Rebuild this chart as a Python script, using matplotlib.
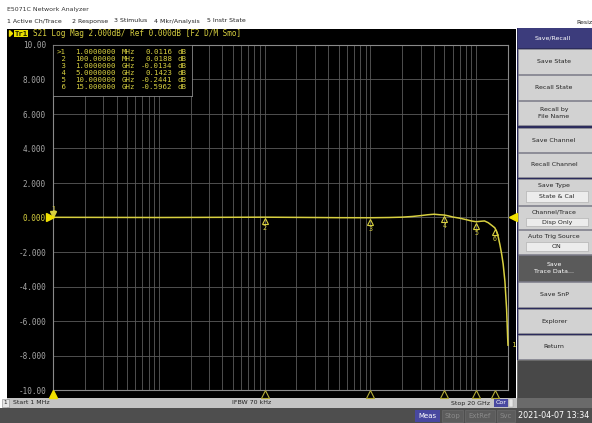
import numpy as np
import matplotlib
matplotlib.use("Agg")
import matplotlib.pyplot as plt
from matplotlib.patches import Rectangle
from matplotlib.ticker import LogLocator, NullFormatter, NullLocator
from matplotlib import transforms

# S21 trace (frequency in GHz, magnitude in dB)
freq_ghz = [0.001, 0.01, 0.1, 0.3, 0.5, 1.0, 1.5, 2.0, 2.5, 3.0, 3.5, 4.0, 4.5,
            5.0, 5.5, 6.0, 7.0, 8.0, 9.0, 10.0, 11.0, 12.0, 13.0, 14.0, 15.0,
            15.6, 16.2, 16.8, 17.4, 18.0, 18.7, 19.4, 19.86, 20.0]
s21_db = [0.0116, 0.0, 0.0188, 0.0, -0.01, -0.0134, 0.0, 0.02, 0.06, 0.11, 0.16,
          0.19, 0.16, 0.1423, 0.09, 0.03, -0.04, -0.12, -0.2, -0.2441, -0.22,
          -0.2, -0.3, -0.45, -0.5962, -0.8, -1.15, -1.6, -2.1, -2.7, -3.7,
          -5.3, -7.0, -7.4]

# marker table
mkr_ids = ["1", "2", "3", "4", "5", "6"]
mkr_freq_ghz = [0.001, 0.1, 1.0, 5.0, 10.0, 15.0]
mkr_freq_txt = ["1.0000000", "100.00000", "1.0000000", "5.0000000", "10.000000", "15.000000"]
mkr_unit = ["MHz", "MHz", "GHz", "GHz", "GHz", "GHz"]
mkr_db = [0.0116, 0.0188, -0.0134, 0.1423, -0.2441, -0.5962]

y_ticks = [10, 8, 6, 4, 2, 0, -2, -4, -6, -8, -10]
y_tick_labels = ["10.00", "8.000", "6.000", "4.000", "2.000", "0.000",
                 "-2.000", "-4.000", "-6.000", "-8.000", "-10.00"]

menu_items = ["1 Active Ch/Trace", "2 Response", "3 Stimulus", "4 Mkr/Analysis", "5 Instr State"]
menu_x = [7, 72, 114, 154, 207]

# softkeys: (top, bottom, label, sub-box text, style)
softkeys = [
    (28, 48, "Save/Recall", None, "title"),
    (49, 74, "Save State", None, "key"),
    (75, 100, "Recall State", None, "key"),
    (101, 125, "Recall by\nFile Name", None, "key"),
    (128, 152, "Save Channel", None, "key"),
    (153, 177, "Recall Channel", None, "key"),
    (179, 205, "Save Type", "State & Cal", "key"),
    (206, 229, "Channel/Trace", "Disp Only", "key"),
    (230, 254, "Auto Trig Source", "ON", "key"),
    (255, 281, "Save\nTrace Data...", None, "dark"),
    (282, 307, "Save SnP", None, "key"),
    (309, 333, "Explorer", None, "key"),
    (335, 359, "Return", None, "key"),
]

W, H = 592, 423
YEL = "#d8d040"
OLIVE = "#b4ac38"
GRID = "#5c5c5c"
MONO = "DejaVu Sans Mono"
UI = "DejaVu Sans"

fig = plt.figure(figsize=(W / 100, H / 100), dpi=100)
fig.patch.set_facecolor("white")

# window chrome drawn in pixel coordinates
bg = fig.add_axes([0, 0, 1, 1])
bg.set_xlim(0, W)
bg.set_ylim(H, 0)
bg.axis("off")


def box(x0, y0, x1, y1, fc, ec="none", lw=0.6, z=1):
    bg.add_patch(Rectangle((x0, y0), x1 - x0, y1 - y0, facecolor=fc,
                           edgecolor=ec, linewidth=lw, zorder=z))


bg.text(7, 9, "E5071C Network Analyzer", fontsize=4.5, family=UI, color="#333333", va="center")
for label, x in zip(menu_items, menu_x):
    bg.text(x, 21, label, fontsize=4.5, family=UI, color="#222222", va="center")
bg.text(576, 22, "Resiz", fontsize=4.5, family=UI, color="#222222", va="center")

# display area
box(7, 29, 516, 398, "black")
bg.fill([9.5, 9.5, 12.5], [30.5, 36.5, 33.5], color="#f0e000", zorder=3)
box(14, 30, 28, 37, "#e8e000", z=3)
bg.text(21, 33.6, "Tr1", fontsize=5.2, family=MONO, color="#202000", ha="center", va="center",
        fontweight="bold", zorder=4)
bg.text(33, 33.6, "S21 Log Mag 2.000dB/ Ref 0.000dB [F2 D/M Smo]", fontsize=5.5,
        family=MONO, color=YEL, va="center", zorder=4)

# status bar and bottom bar
box(7, 398, 517, 408, "#c4c4c4")
box(2, 399, 9, 407, "#e6e6e6", ec="#888888", lw=0.4)
bg.text(5.5, 403, "1", fontsize=4.2, family=UI, color="#222222", ha="center", va="center")
bg.text(13, 403, "Start 1 MHz", fontsize=4.5, family=UI, color="#222222", va="center")
bg.text(232, 403, "IFBW 70 kHz", fontsize=4.5, family=UI, color="#222222", va="center")
bg.text(451, 403, "Stop 20 GHz", fontsize=4.5, family=UI, color="#222222", va="center")
box(494, 399, 508, 407, "#4848a0")
bg.text(501, 403, "Cor", fontsize=4.5, family=UI, color="white", ha="center", va="center")
box(509, 399, 513, 407, "#e6e6e6", ec="#999999", lw=0.3)
box(0, 408, W, H, "#4e4e4e")
box(415, 410, 440, 422, "#4848a0")
bg.text(427.5, 416, "Meas", fontsize=5, family=UI, color="white", ha="center", va="center")
for x0, x1, lab in [(442, 463, "Stop"), (465, 495, "ExtRef"), (497, 515, "Svc")]:
    box(x0, 410, x1, 422, "#5c5c5c", ec="#707070", lw=0.4)
    bg.text((x0 + x1) / 2, 416, lab, fontsize=5, family=UI, color="#8a8a8a", ha="center", va="center")
bg.text(518, 416, "2021-04-07 13:34", fontsize=5.8, family=UI, color="white", va="center")

# softkey panel
box(517, 28, W, 408, "#6a6a6a")
box(517, 28, W, 360, "#2c2c5c")
for y0, y1, label, sub, style in softkeys:
    if style == "title":
        box(518, y0, W, y1, "#3c3c7c")
        bg.text(553, (y0 + y1) / 2, label, fontsize=4.5, family=UI, color="white", ha="center", va="center")
        continue
    fc = "#5a5a5a" if style == "dark" else "#d2d2d2"
    tc = "white" if style == "dark" else "#222222"
    box(518, y0, W, y1, fc, ec="#9a9a9a", lw=0.4)
    if sub is None:
        bg.text(554, (y0 + y1) / 2, label, fontsize=4.5, family=UI, color=tc,
                ha="center", va="center", linespacing=1.7)
    else:
        bg.text(554, y0 + 6.5, label, fontsize=4.5, family=UI, color=tc, ha="center", va="center")
        box(526, y0 + 12.5, 588, y1 - 3, "#ececec", ec="#a8a8a8", lw=0.4)
        bg.text(557, (y0 + 12.5 + y1 - 3) / 2, sub, fontsize=4.5, family=UI, color=tc,
                ha="center", va="center")
box(518, 361, W, 398, "#484848")

# measurement grid
x0p, x1p, y0p, y1p = 53, 508, 45, 390
ax = fig.add_axes([x0p / W, 1 - y1p / H, (x1p - x0p) / W, (y1p - y0p) / H])
ax.set_facecolor("black")
freq_hz = np.array(freq_ghz) * 1e9
ax.set_xscale("log")
ax.set_xlim(1e6, 2e10)
ax.set_ylim(-10, 10)
ax.xaxis.set_major_locator(LogLocator(base=10, subs=np.arange(1, 10), numticks=100))
ax.xaxis.set_minor_locator(NullLocator())
ax.xaxis.set_major_formatter(NullFormatter())
ax.set_yticks(y_ticks)
ax.set_yticklabels(y_tick_labels, family=MONO, fontsize=5.5, color="#a8a8a8")
for lab in ax.get_yticklabels():
    if lab.get_text() == "0.000":
        lab.set_color(YEL)
ax.tick_params(length=0, pad=5)
ax.grid(True, color=GRID, linewidth=0.6)
for s in ax.spines.values():
    s.set_color("#8a8a8a")
    s.set_linewidth(0.8)

ax.plot(freq_hz, s21_db, color=YEL, linewidth=1.1, zorder=5, clip_on=False)
ax.text(freq_hz[-1], s21_db[-1], " 1", fontsize=5, family=MONO, color=YEL,
        va="center", ha="left", clip_on=False)

# markers on the trace
mk_hz = np.array(mkr_freq_ghz) * 1e9
for i, (f, v, mid) in enumerate(zip(mk_hz, mkr_db, mkr_ids)):
    if i == 0:
        tri = transforms.offset_copy(ax.transData, fig=fig, x=0, y=3, units="dots")
        ax.plot(f, v, marker="v", markersize=4, color=YEL, transform=tri, zorder=6, clip_on=False)
        ax.annotate(mid, (f, v), xytext=(0, 8), textcoords="offset pixels", fontsize=4.8,
                    family=MONO, color=YEL, ha="center", va="center", annotation_clip=False)
    else:
        tri = transforms.offset_copy(ax.transData, fig=fig, x=0, y=-4, units="dots")
        ax.plot(f, v, marker="^", markersize=4.5, markerfacecolor="none", markeredgecolor=YEL,
                markeredgewidth=0.8, transform=tri, zorder=6)
        ax.annotate(mid, (f, v), xytext=(0, -11), textcoords="offset pixels", fontsize=4.8,
                    family=MONO, color=YEL, ha="center", va="center")

# stimulus markers along the bottom edge
bottom = transforms.blended_transform_factory(ax.transData, ax.transAxes)
bot_off = transforms.offset_copy(bottom, fig=fig, x=0, y=-3.5, units="dots")
for i, f in enumerate(mk_hz):
    if i == 0:
        ax.plot(f, 0, marker="^", markersize=6, color="#f0e000", transform=bot_off,
                clip_on=False, zorder=7)
    else:
        ax.plot(f, 0, marker="^", markersize=6, markerfacecolor="black", markeredgecolor=OLIVE,
                markeredgewidth=0.8, transform=bot_off, clip_on=False, zorder=7)

# reference position arrows
side = transforms.blended_transform_factory(ax.transAxes, ax.transData)
ax.plot(0, 0, marker=">", markersize=6, color="#f0e000",
        transform=transforms.offset_copy(side, fig=fig, x=-3, y=0, units="dots"), clip_on=False, zorder=7)
ax.plot(1, 0, marker="<", markersize=6, color="#f0e000",
        transform=transforms.offset_copy(side, fig=fig, x=5, y=0, units="dots"), clip_on=False, zorder=7)

# marker readout table
tab = ax.inset_axes([0, 1 - 51 / 345, 139 / 455, 51 / 345])
tab.set_xlim(53, 192)
tab.set_ylim(97, 46)
tab.set_facecolor("black")
tab.set_xticks([])
tab.set_yticks([])
for s in tab.spines.values():
    s.set_color("#8a8a8a")
    s.set_linewidth(0.6)
for r, (mid, ft, un, v) in enumerate(zip(mkr_ids, mkr_freq_txt, mkr_unit, mkr_db)):
    y = 52.8 + r * 7
    tab.text(57, y, (">" if r == 0 else " ") + mid, fontsize=5.3, family=MONO, color=YEL, va="center")
    tab.text(75, y, ft, fontsize=5.3, family=MONO, color=YEL, va="center")
    tab.text(122, y, un, fontsize=5.3, family=MONO, color=YEL, va="center")
    tab.text(172, y, f"{v:.4f}", fontsize=5.3, family=MONO, color=YEL, va="center", ha="right")
    tab.text(177, y, "dB", fontsize=5.3, family=MONO, color=YEL, va="center")

fig.savefig("out.png", dpi=100, facecolor=fig.get_facecolor())
